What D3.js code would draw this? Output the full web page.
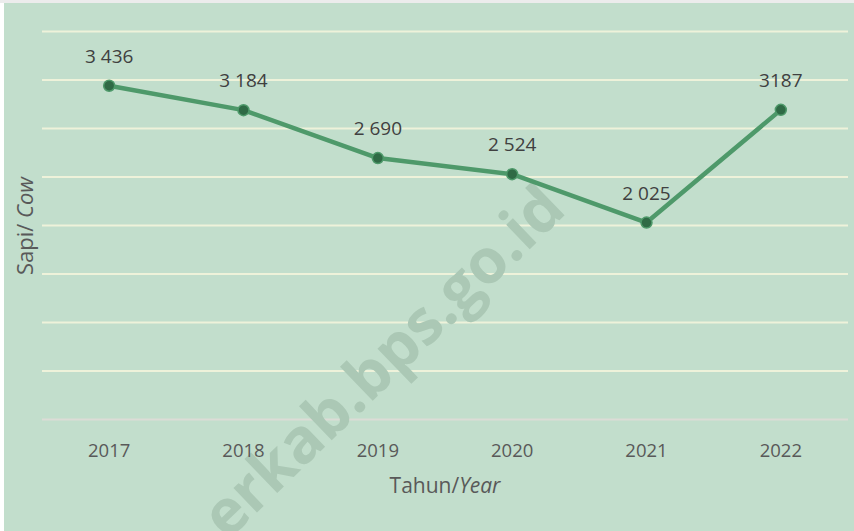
<!DOCTYPE html>
<html>
<head>
<meta charset="utf-8">
<script src="https://cdn.jsdelivr.net/npm/d3@7"></script>
<style>
  html, body { margin: 0; padding: 0; background: #ffffff; }
  svg { display: block; }
</style>
</head>
<body>
<script>
// ---- data ----
const years = ["2017", "2018", "2019", "2020", "2021", "2022"];
const cows = [3436, 3184, 2690, 2524, 2025, 3187];
const valueLabels = ["3 436", "3 184", "2 690", "2 524", "2 025", "3187"];
const yTicks = [0, 500, 1000, 1500, 2000, 2500, 3000, 3500, 4000];
const xTitleMain = "Tahun/";
const xTitleItalic = "Year";
const yTitleMain = "Sapi/ ";
const yTitleItalic = "Cow";
const watermark = "erkab.bps.go.id";

const W = 854, H = 531;
const margin = { left: 42, right: 6, top: 31, bottom: 112 };
const font = "'Open Sans', sans-serif";

const svg = d3.select("body").append("svg").attr("width", W).attr("height", H);

// backgrounds
svg.append("rect").attr("x", 0).attr("y", 0).attr("width", W).attr("height", 3).attr("fill", "#ececec");
svg.append("rect").attr("x", 4).attr("y", 3).attr("width", W - 4).attr("height", H - 3).attr("fill", "#c2decc");

const x = d3.scaleBand().domain(years).range([margin.left, W - margin.right]);
const y = d3.scaleLinear().domain([0, 4000]).range([H - margin.bottom, margin.top]);

// gridlines
const grid = svg.append("g").attr("transform", `translate(${margin.left},0)`)
  .call(d3.axisLeft(y).tickValues(yTicks).tickSize(-(W - margin.right - margin.left)).tickFormat(""));
grid.select(".domain").remove();
grid.selectAll(".tick line")
  .attr("stroke", d => d === 0 ? "#dcdcd6" : "#eef2da")
  .attr("stroke-width", 2);

// watermark
const wx = 568, wy = 212;
svg.append("text")
  .attr("transform", `translate(${wx},${wy}) rotate(-44)`)
  .attr("text-anchor", "end")
  .attr("font-family", font)
  .attr("font-weight", 700)
  .attr("font-size", 62)
  .attr("fill", "#abc8b5")
  .text(watermark);

// x axis labels
const xAxis = svg.append("g").attr("transform", `translate(0,${H - margin.bottom})`)
  .call(d3.axisBottom(x).tickSize(0).tickPadding(0));
xAxis.select(".domain").remove();
xAxis.selectAll(".tick text")
  .attr("font-family", font).attr("font-size", 18.5).attr("fill", "#595959")
  .attr("dy", null).attr("y", 38);

// line
const cx = d => x(d) + x.bandwidth() / 2;
const line = d3.line().x((d, i) => cx(years[i])).y(d => y(d));
svg.append("path").datum(cows)
  .attr("d", line)
  .attr("fill", "none")
  .attr("stroke", "#4e996a")
  .attr("stroke-width", 4.5)
  .attr("stroke-linejoin", "round");

svg.selectAll("circle.pt").data(cows).enter().append("circle")
  .attr("class", "pt")
  .attr("cx", (d, i) => cx(years[i]))
  .attr("cy", d => y(d))
  .attr("r", 5.5)
  .attr("fill", "#2f6a45")
  .attr("stroke", "#4e996a")
  .attr("stroke-width", 1.5);

// value labels
svg.selectAll("text.val").data(cows).enter().append("text")
  .attr("class", "val")
  .attr("x", (d, i) => cx(years[i]))
  .attr("y", d => y(d) - 23)
  .attr("text-anchor", "middle")
  .attr("font-family", font).attr("font-size", 19).attr("fill", "#404040")
  .text((d, i) => valueLabels[i]);

// x title
const xt = svg.append("text")
  .attr("x", (margin.left + W - margin.right) / 2)
  .attr("y", 493)
  .attr("text-anchor", "middle")
  .attr("font-family", font).attr("font-size", 21).attr("fill", "#595959");
xt.append("tspan").text(xTitleMain);
xt.append("tspan").attr("font-style", "italic").text(xTitleItalic);

// y title
const yt = svg.append("text")
  .attr("transform", `translate(33,${y(2000) + 1}) rotate(-90)`)
  .attr("text-anchor", "middle")
  .attr("font-family", font).attr("font-size", 22).attr("fill", "#595959");
yt.append("tspan").text(yTitleMain);
yt.append("tspan").attr("font-style", "italic").text(yTitleItalic);
</script>
</body>
</html>
